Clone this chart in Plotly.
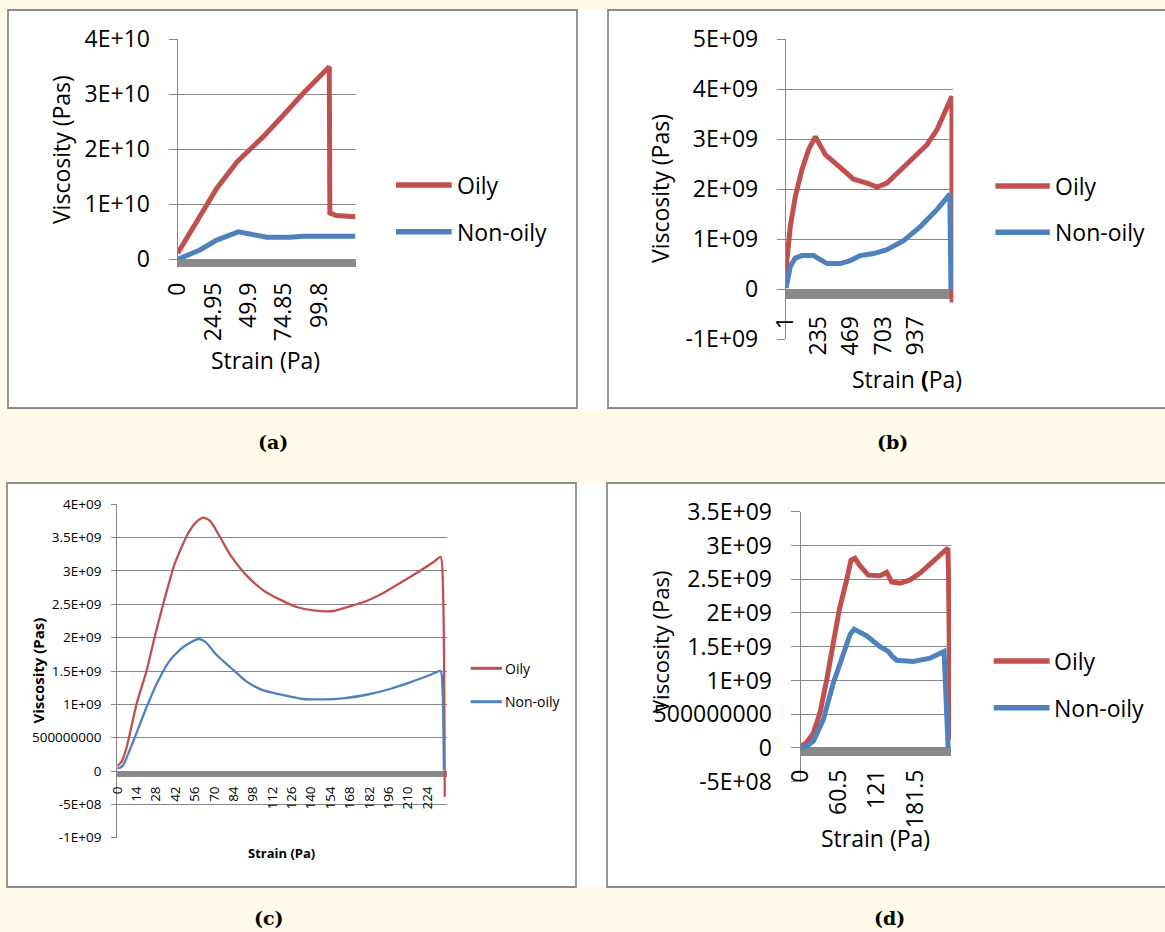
import plotly.graph_objects as go

W, H = 1165, 932

# ---------------- data ----------------
# (a)
a_x_oily = [0, 8, 15.7, 27.5, 42, 51, 60.4, 74.5, 88.6, 107, 107.4, 112, 118, 125.5]
a_y_oily = [1.1e9, 4.5e9, 7.75e9, 1.29e10, 1.775e10, 1.99e10, 2.23e10, 2.62e10, 3.02e10,
            3.50e10, 8.4e9, 7.95e9, 7.8e9, 7.75e9]
a_x_non = [0, 15.7, 27.5, 42.8, 51, 62.8, 79.2, 88.6, 125.5]
a_y_non = [0, 1.7e9, 3.5e9, 5.0e9, 4.6e9, 4.0e9, 4.0e9, 4.2e9, 4.2e9]
a_xticks = [0, 24.95, 49.9, 74.85, 99.8]
a_xtext = ["0", "24.95", "49.9", "74.85", "99.8"]
a_yticks = [0, 1e10, 2e10, 3e10, 4e10]
a_ytext = ["0", "1E+10", "2E+10", "3E+10", "4E+10"]

# (b)
b_x_oily = [1, 8, 32, 68, 116, 164, 213, 236, 285, 369, 489, 586, 658, 730, 850, 1019,
            1091, 1192, 1199, 1200]
b_y_oily = [0.12e9, 0.59e9, 1.25e9, 1.85e9, 2.39e9, 2.79e9, 3.05e9, 2.92e9, 2.69e9, 2.49e9,
            2.20e9, 2.12e9, 2.04e9, 2.12e9, 2.45e9, 2.89e9, 3.19e9, 3.82e9, 3.86e9, -0.27e9]
b_x_non = [1, 32, 68, 116, 200, 249, 297, 393, 465, 537, 633, 730, 850, 971, 1091, 1184, 1192]
b_y_non = [0.02e9, 0.45e9, 0.62e9, 0.67e9, 0.67e9, 0.60e9, 0.51e9, 0.51e9, 0.57e9, 0.67e9,
           0.71e9, 0.79e9, 0.97e9, 1.25e9, 1.59e9, 1.90e9, 0.0]
b_xticks = [1, 235, 469, 703, 937]
b_xtext = ["1", "235", "469", "703", "937"]
b_yticks = [-1e9, 0, 1e9, 2e9, 3e9, 4e9, 5e9]
b_ytext = ["-1E+09", "0", "1E+09", "2E+09", "3E+09", "4E+09", "5E+09"]

# (c)
c_x_oily = [0, 3.1, 6.8, 14, 21, 27, 33, 41.7, 51.3, 57.4, 62.1, 67, 74.2, 81.4, 93.5, 105.5,
            117.6, 129.6, 141.6, 156, 168, 180, 192.2, 204.3, 216.3, 228.3, 233.6, 235.5, 236.6]
c_y_oily = [0.075e9, 0.14e9, 0.36e9, 1.01e9, 1.49e9, 2.01e9, 2.49e9, 3.12e9, 3.57e9, 3.74e9,
            3.80e9, 3.75e9, 3.51e9, 3.25e9, 2.93e9, 2.71e9, 2.57e9, 2.46e9, 2.41e9, 2.40e9,
            2.47e9, 2.55e9, 2.67e9, 2.82e9, 2.97e9, 3.13e9, 3.21e9, 2.56e9, -0.385e9]
c_x_non = [0, 2, 4.3, 11.6, 21.2, 28.5, 38, 47.7, 58.5, 63.4, 71.8, 81.4, 93.5, 105.5, 117.6,
           134.4, 148.8, 163.3, 182.6, 197, 211.5, 226, 233.6, 235, 236]
c_y_non = [0.04e9, 0.05e9, 0.09e9, 0.45e9, 0.96e9, 1.31e9, 1.66e9, 1.86e9, 1.98e9, 1.94e9,
           1.74e9, 1.56e9, 1.34e9, 1.21e9, 1.15e9, 1.08e9, 1.075e9, 1.09e9, 1.155e9, 1.23e9,
           1.33e9, 1.44e9, 1.50e9, 1.21e9, 0.02e9]
c_xticks = list(range(0, 225, 14))
c_xtext = [str(v) for v in c_xticks]
c_yticks = [-1e9, -5e8, 0, 5e8, 1e9, 1.5e9, 2e9, 2.5e9, 3e9, 3.5e9, 4e9]
c_ytext = ["-1E+09", "-5E+08", "0", "500000000", "1E+09", "1.5E+09", "2E+09", "2.5E+09",
           "3E+09", "3.5E+09", "4E+09"]

# (d)
d_x_oily = [0, 9.5, 20, 30.6, 41.3, 51.7, 61.3, 73, 79.8, 86.2, 94, 107.3, 126, 136.5, 144.4,
            157.6, 173.5, 189.4, 205.2, 218.4, 228, 233.5, 234.5, 237.5]
d_y_oily = [0.02e9, 0.08e9, 0.22e9, 0.52e9, 1.01e9, 1.55e9, 2.05e9, 2.49e9, 2.78e9, 2.81e9,
            2.70e9, 2.56e9, 2.55e9, 2.60e9, 2.46e9, 2.44e9, 2.49e9, 2.59e9, 2.73e9, 2.83e9,
            2.91e9, 2.96e9, 2.60e9, 0.12e9]
d_x_non = [0, 10, 20, 35.9, 51.7, 67.6, 78.3, 84.6, 104.8, 125.9, 139, 145, 152.4, 178.7,
           205.2, 227.5, 229, 234]
d_y_non = [0, 0.03e9, 0.10e9, 0.42e9, 0.96e9, 1.41e9, 1.68e9, 1.76e9, 1.66e9, 1.50e9, 1.43e9,
           1.36e9, 1.30e9, 1.28e9, 1.33e9, 1.43e9, 1.16e9, 0.0]
d_xticks = [0, 60.5, 121, 181.5]
d_xtext = ["0", "60.5", "121", "181.5"]
d_yticks = [-5e8, 0, 5e8, 1e9, 1.5e9, 2e9, 2.5e9, 3e9, 3.5e9]
d_ytext = ["-5E+08", "0", "500000000", "1E+09", "1.5E+09", "2E+09", "2.5E+09", "3E+09", "3.5E+09"]

series_names = ["Oily", "Non-oily"]
captions = ["(a)", "(b)", "(c)", "(d)"]

# ---------------- styling ----------------
RED = "#C0504D"
BLUE = "#4F81BD"
GRID = "#868686"
BAR = "#8A8A8A"
CREAM = "#FFFBE8"
FONT = "Open Sans"


def fx(px):
    return px / W


def fy(py):
    return 1 - py / H


panels = [
    dict(sfx="", xs=(a_x_oily, a_x_non), ys=(a_y_oily, a_y_non), xdom=(177.7, 355.5),
         ydom=(39.3, 259.3), xr=[0, 125.5], yr=[0, 4e10], xt=(a_xticks, a_xtext),
         yt=(a_yticks, a_ytext), lw=5, fs=23, bar=8, free=False, ticklen=8,
         ystand=14, xstand=6, shape="linear"),
    dict(sfx="2", xs=(b_x_oily, b_x_non), ys=(b_y_oily, b_y_non), xdom=(786.0, 953.3),
         ydom=(39.3, 339.0), xr=[1, 1209], yr=[-1e9, 5e9], xt=(b_xticks, b_xtext),
         yt=(b_yticks, b_ytext), lw=5, fs=23, bar=9, free=True, zero=289.3, ticklen=8,
         ystand=14, xstand=8, shape="linear"),
    dict(sfx="3", xs=(c_x_oily, c_x_non), ys=(c_y_oily, c_y_non), xdom=(117.3, 446.7),
         ydom=(504.3, 837.7), xr=[0, 238], yr=[-1e9, 4e9], xt=(c_xticks, c_xtext),
         yt=(c_yticks, c_ytext), lw=2.3, fs=13.5, bar=6, free=True, zero=771.0, ticklen=5,
         ystand=7, xstand=4, shape="spline"),
    dict(sfx="4", xs=(d_x_oily, d_x_non), ys=(d_y_oily, d_y_non), xdom=(800.7, 951.0),
         ydom=(511.7, 781.7), xr=[0, 238.5], yr=[-5e8, 3.5e9], xt=(d_xticks, d_xtext),
         yt=(d_yticks, d_ytext), lw=5, fs=23, bar=8, free=True, zero=748.3, ticklen=9,
         ystand=14, xstand=4, shape="linear"),
]

fig = go.Figure()
layout = {}

for p in panels:
    s = p["sfx"]
    xa = "x" + s
    ya = "y" + s
    for xs_, ys_, name, col in zip(p["xs"], p["ys"], series_names, [RED, BLUE]):
        line = dict(color=col, width=p["lw"], shape=p["shape"])
        if p["shape"] == "spline":
            line["smoothing"] = 0.6
        fig.add_trace(go.Scatter(x=xs_, y=ys_, mode="lines", name=name, showlegend=False,
                                 xaxis=xa, yaxis=ya, hoverinfo="skip", line=line))
    xaxis = dict(domain=[fx(p["xdom"][0]), fx(p["xdom"][1])], range=p["xr"],
                 showgrid=False, zeroline=False, showline=True, linecolor=BAR,
                 linewidth=p["bar"], ticks="", tickmode="array",
                 tickvals=p["xt"][0], ticktext=p["xt"][1], tickangle=-90,
                 tickfont=dict(family=FONT, size=p["fs"], color="#000000"),
                 ticklabelstandoff=p["xstand"], layer="below traces", fixedrange=True,
                 automargin=False)
    if p["free"]:
        center = p["zero"] + p["bar"] / 2.0
        xaxis.update(anchor="free", position=fy(center))
    else:
        xaxis.update(anchor=ya, side="bottom")
    yaxis = dict(domain=[fy(p["ydom"][1]), fy(p["ydom"][0])], range=p["yr"], anchor=xa,
                 showgrid=True, gridcolor=GRID, gridwidth=1.3, zeroline=False,
                 showline=True, linecolor=GRID, linewidth=1.3,
                 ticks="outside", ticklen=p["ticklen"], tickcolor=GRID, tickwidth=1.3,
                 tickmode="array", tickvals=p["yt"][0], ticktext=p["yt"][1],
                 tickfont=dict(family=FONT, size=p["fs"], color="#000000"),
                 ticklabelstandoff=p["ystand"], layer="below traces", fixedrange=True,
                 automargin=False)
    layout["xaxis" + s] = xaxis
    layout["yaxis" + s] = yaxis

fig.update_layout(template="none")
fig.update_layout(**layout)

shapes = []
# white chart areas
shapes.append(dict(type="rect", xref="paper", yref="paper", x0=fx(8), x1=fx(1170),
                   y0=fy(409), y1=fy(10), fillcolor="white", line=dict(width=0), layer="below"))
shapes.append(dict(type="rect", xref="paper", yref="paper", x0=fx(7), x1=fx(1170),
                   y0=fy(887), y1=fy(483), fillcolor="white", line=dict(width=0), layer="below"))
# chart borders
for (x0, y0, x1, y1) in [(8, 10, 577, 408), (608, 10, 1172, 408),
                         (7, 483, 576, 887), (607, 483, 1172, 887)]:
    shapes.append(dict(type="rect", xref="paper", yref="paper", x0=fx(x0), x1=fx(x1),
                       y0=fy(y1), y1=fy(y0), line=dict(color="#8C8C8C", width=1.8),
                       fillcolor="rgba(0,0,0,0)", layer="below"))

annotations = []
# legends (line key + text)
legend_specs = [
    dict(x0=396, x1=451.7, ys=(185, 231.7), tx=455, fs=23, lw=5.5),
    dict(x0=995.4, x1=1049.8, ys=(186, 232.3), tx=1053, fs=23, lw=5.5),
    dict(x0=470.7, x1=501.9, ys=(668.3, 701.7), tx=503, fs=14, lw=3),
    dict(x0=993.7, x1=1049.6, ys=(661, 707.7), tx=1052, fs=23, lw=5.5),
]
for lg in legend_specs:
    for name, col, yy in zip(series_names, [RED, BLUE], lg["ys"]):
        shapes.append(dict(type="line", xref="paper", yref="paper", x0=fx(lg["x0"]),
                           x1=fx(lg["x1"]), y0=fy(yy), y1=fy(yy),
                           line=dict(color=col, width=lg["lw"])))
        annotations.append(dict(text=name, xref="paper", yref="paper", x=fx(lg["tx"]),
                                y=fy(yy), xanchor="left", yanchor="middle", showarrow=False,
                                font=dict(family=FONT, size=lg["fs"], color="#000000")))

# axis titles
ytitles = [(61.1, 150, 23, False), (660, 189, 23, True), (37.6, 671, 15, None), (660, 642, 22, False)]
xtitles = [(265.7, 360, 23, False), (906.7, 379.3, 23, True), (281.7, 853.3, 13, None),
           (875, 838.3, 23, False)]
for (x, y, fs, boldparen) in ytitles:
    txt = "<b>Viscosity (Pas)</b>" if boldparen is None else "Viscosity (Pas)"
    annotations.append(dict(text=txt, xref="paper", yref="paper", x=fx(x), y=fy(y),
                            xanchor="center", yanchor="middle", textangle=-90,
                            showarrow=False,
                            font=dict(family=FONT, size=fs, color="#000000")))
for (x, y, fs, boldparen) in xtitles:
    if boldparen is None:
        txt = "<b>Strain (Pa)</b>"
    elif boldparen:
        txt = "Strain <b>(</b>Pa)"
    else:
        txt = "Strain (Pa)"
    annotations.append(dict(text=txt, xref="paper", yref="paper", x=fx(x), y=fy(y),
                            xanchor="center", yanchor="middle", showarrow=False,
                            font=dict(family=FONT, size=fs, color="#000000")))

# captions
for cap, (x, y) in zip(captions, [(273, 441.7), (892, 441.7), (269, 918), (889.6, 918)]):
    annotations.append(dict(text="<b>" + cap + "</b>", xref="paper", yref="paper",
                            x=fx(x), y=fy(y), xanchor="center", yanchor="middle",
                            showarrow=False,
                            font=dict(family="DejaVu Serif", size=19, color="#000000")))

fig.update_layout(width=W, height=H, margin=dict(l=0, r=0, t=0, b=0, pad=0),
                  paper_bgcolor=CREAM, plot_bgcolor="white", showlegend=False,
                  shapes=shapes, annotations=annotations, autosize=False)

fig.write_html("out.html", config={"displayModeBar": False},
               post_script="document.body.style.margin='0px';document.body.style.overflow='hidden';")
